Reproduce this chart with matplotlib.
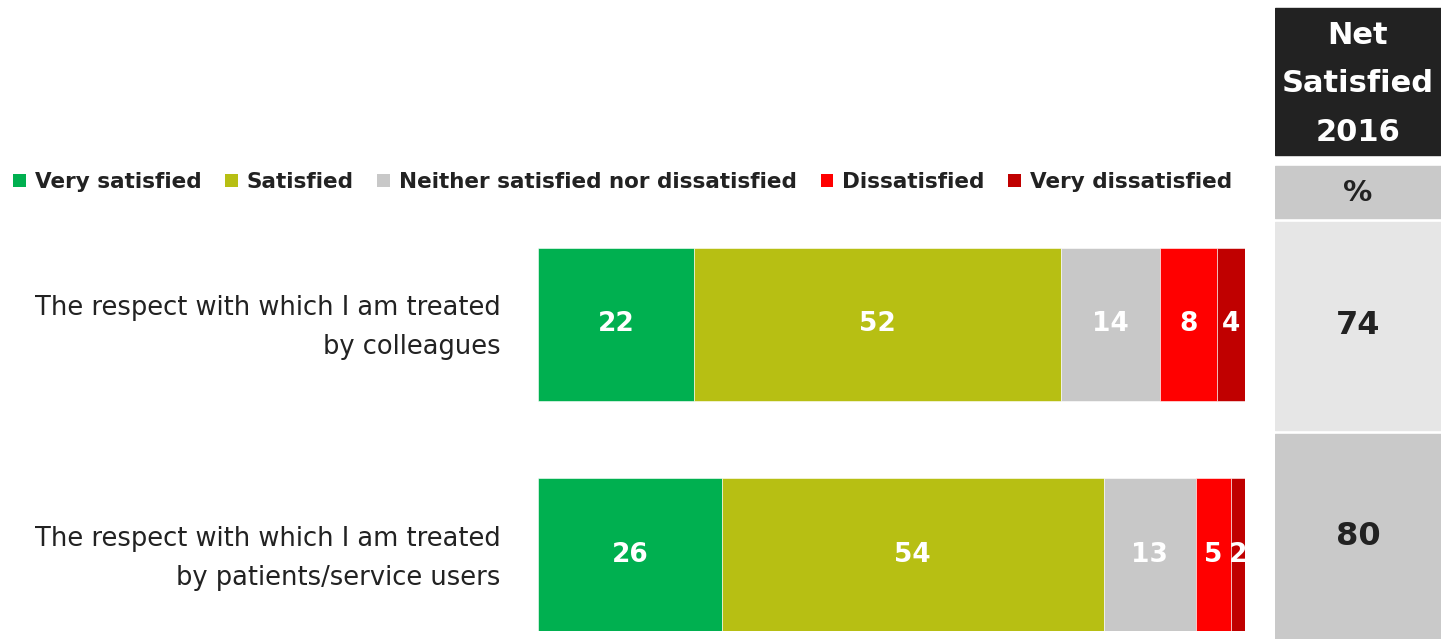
import matplotlib.pyplot as plt
from matplotlib.patches import Rectangle, Patch
from matplotlib.transforms import ScaledTranslation
import numpy as np

categories = ["The respect with which I am treated\nby colleagues",
              "The respect with which I am treated\nby patients/service users"]
series = ["Very satisfied", "Satisfied", "Neither satisfied nor dissatisfied",
          "Dissatisfied", "Very dissatisfied"]
very_satisfied = [22, 26]
satisfied = [52, 54]
neither = [14, 13]
dissatisfied = [8, 5]
very_dissatisfied = [4, 2]
net_satisfied = [74, 80]

colors = ["#00b050", "#b7bf13", "#c8c8c8", "#ff0000", "#c00000"]

W, H = 1443, 639
fig = plt.figure(figsize=(W / 100, H / 100), dpi=100)
plt.rcParams['font.family'] = ['DejaVu Sans']

# main stacked bars
ax = fig.add_axes([538 / W, (H - 631) / H, 707 / W, (631 - 248) / H])
bh = 0.665
y = np.arange(len(categories))
left = np.zeros(len(categories))
for name, vals, c in zip(series, [very_satisfied, satisfied, neither, dissatisfied, very_dissatisfied], colors):
    vals = np.array(vals)
    bars = ax.barh(y, vals, left=left, height=bh, color=c, edgecolor="white", linewidth=0.4, label=name)
    for b, v in zip(bars, vals):
        ax.text(b.get_x() + b.get_width() / 2, b.get_y() + b.get_height() / 2, str(v),
                ha="center", va="center", color="white", fontsize=19, fontweight="bold")
    left += vals

ax.set_xlim(0, 100)
ax.set_ylim(1 + bh / 2, -bh / 2)
ax.set_yticks(y, categories, fontsize=18.5, color="#222222", ha="right",
              multialignment="right", linespacing=1.65)
ax.tick_params(axis="y", length=0, pad=27)
# nudge the labels up a little
for lbl in ax.get_yticklabels():
    lbl.set_transform(lbl.get_transform() + ScaledTranslation(0, 0.06, fig.dpi_scale_trans))
ax.set_xticks([])
for s in ax.spines.values():
    s.set_visible(False)

# legend
handles = [Patch(facecolor=c, label=n) for n, c in zip(series, colors)]
fig.legend(handles=handles, loc="center left", bbox_to_anchor=(-6 / W, (H - 182) / H), ncol=5,
           frameon=False, handlelength=0.6, handleheight=0.6, handletextpad=0.4,
           columnspacing=1.1, prop={"weight": "bold", "size": 15.5}, labelcolor="#222222")

# net satisfied table
tb = fig.add_axes([1275 / W, 0, 166 / W, 1])
tb.set_xlim(0, 1)
tb.set_ylim(H, 0)
tb.axis("off")
tb.add_patch(Rectangle((0, 8), 1, 147, color="#222222"))
tb.text(0.5, 84, "Net\nSatisfied\n2016", ha="center", va="center", color="white",
        fontsize=22, fontweight="bold", linespacing=1.85)
tb.add_patch(Rectangle((0, 166), 1, 52, color="#c9c9c9"))
tb.text(0.5, 193, "%", ha="center", va="center", color="#222222", fontsize=21, fontweight="bold")
rows = [(222, 430, "#e6e6e6"), (434, 639, "#c9c9c9")]
for (top, bot, c), v in zip(rows, net_satisfied):
    tb.add_patch(Rectangle((0, top), 1, bot - top, color=c))
    tb.text(0.5, (top + bot) / 2, str(v), ha="center", va="center", color="#222222",
            fontsize=23, fontweight="bold")

fig.savefig("out.png", dpi=100)
